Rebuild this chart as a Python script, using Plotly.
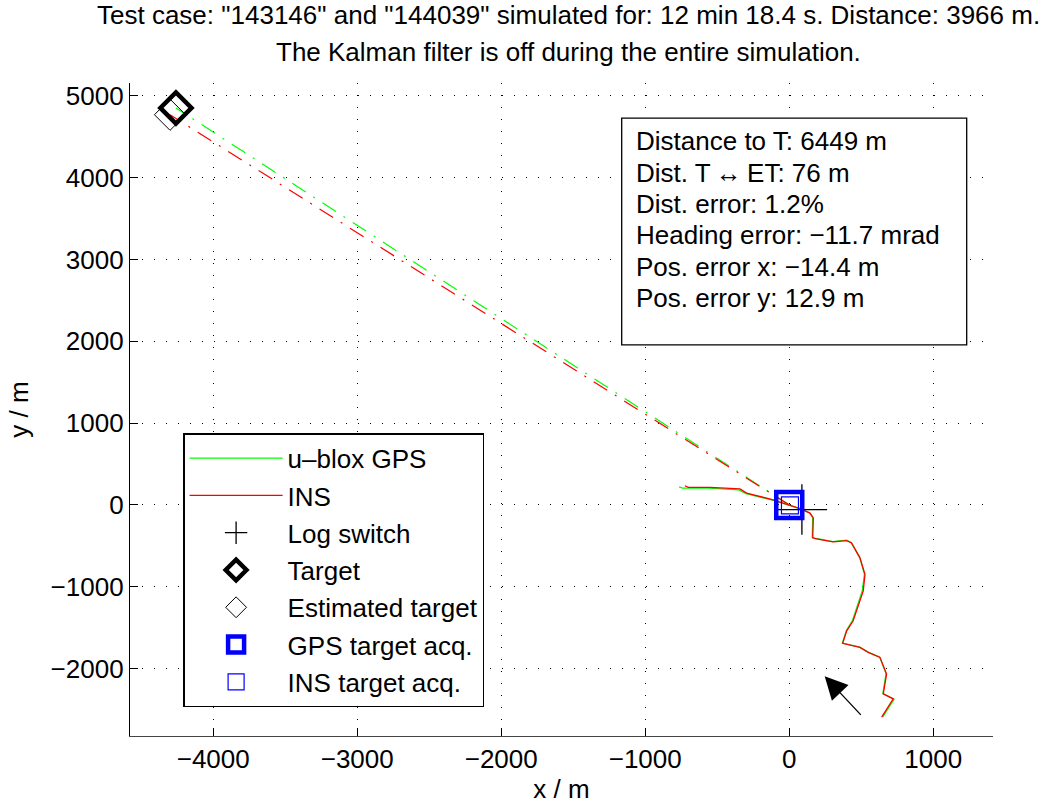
import plotly.graph_objects as go

# ---------------- data ----------------
gps_x = [650, 728, 650, 672, 628, 547, 489, 397, 369, 397, 440, 508, 522, 489, 430, 397, 300, 188, 160, 163, 140, 70, -115, -300, -350, -560, -740, -765]
gps_y = [-2590, -2375, -2305, -2060, -1858, -1798, -1738, -1698, -1688, -1535, -1410, -1045, -845, -640, -460, -430, -448, -410, -398, -155, -95, -42, 60, 138, 185, 205, 205, 222]

ins_x = [642, 722, 653, 676, 630, 549, 491, 399, 371, 399, 444, 514, 526, 491, 433, 399, 306, 190, 163, 167, 144, 74, -111, -296, -342, -551, -700, -725]
ins_y = [-2593, -2370, -2309, -2066, -1863, -1802, -1741, -1701, -1692, -1538, -1416, -1051, -849, -646, -464, -436, -451, -415, -402, -159, -99, -46, 63, 145, 197, 214, 215, 235]

log_switch = (88, -56)
target = (-4259, 4853)
est_target = (-4300, 4770)
gps_acq = (0, 0)
ins_acq = (5, -5)

gps_dir_x = [gps_acq[0], target[0]]
gps_dir_y = [gps_acq[1], target[1]]
ins_dir_x = [ins_acq[0], est_target[0]]
ins_dir_y = [ins_acq[1], est_target[1]]

arrow_tip = (246, -2094)
arrow_tail = (507, -2584)

x_ticks = [-4000, -3000, -2000, -1000, 0, 1000]
y_ticks = [-2000, -1000, 0, 1000, 2000, 3000, 4000, 5000]
x_range = [-4578, 1415]
y_range = [-2824, 5158]

title_lines = [
    'Test case: "143146" and "144039" simulated for: 12 min 18.4 s. Distance: 3966 m.',
    'The Kalman filter is off during the entire simulation.',
]
info_lines = [
    "Distance to T: 6449 m",
    "Dist. T\u2009\u2194\u2009ET: 76 m",
    "Dist. error: 1.2%",
    "Heading error: \u221211.7 mrad",
    "Pos. error x: \u221214.4 m",
    "Pos. error y: 12.9 m",
]

FONT = "Liberation Sans, Arial, Helvetica, sans-serif"
FS = 26

# plot area in pixels
L, R, T, B = 130, 993, 83, 739
W, H = 1054, 807
PW, PH = R - L, B - T

def px(xp):
    return (xp - L) / PW

def py(yp):
    return (B - yp) / PH

fig = go.Figure()

dashdot = "16px,9px,2px,9px"
fig.add_trace(go.Scatter(x=gps_dir_x, y=gps_dir_y, mode="lines",
                         line=dict(color="#00ff00", width=1.2, dash=dashdot),
                         showlegend=False, hoverinfo="skip"))
fig.add_trace(go.Scatter(x=ins_dir_x, y=ins_dir_y, mode="lines",
                         line=dict(color="#ff0000", width=1.2, dash=dashdot),
                         showlegend=False, hoverinfo="skip"))

fig.add_trace(go.Scatter(x=gps_x, y=gps_y, mode="lines", name="u\u2013blox GPS",
                         line=dict(color="#00ff00", width=1.3), legendgroup="a"))
fig.add_trace(go.Scatter(x=ins_x, y=ins_y, mode="lines", name="INS",
                         line=dict(color="#ff0000", width=1.3), legendgroup="b"))
fig.add_trace(go.Scatter(x=[log_switch[0]], y=[log_switch[1]], mode="markers", name="Log switch",
                         marker=dict(symbol="cross-thin-open", size=36, color="black",
                                     line=dict(color="black", width=1.3)), legendgroup="c"))
fig.add_trace(go.Scatter(x=[est_target[0]], y=[est_target[1]], mode="markers", name="Estimated target",
                         marker=dict(symbol="diamond-open", size=24, color="black",
                                     line=dict(color="black", width=1)), legendgroup="e",
                         legendrank=1005))
fig.add_trace(go.Scatter(x=[target[0]], y=[target[1]], mode="markers", name="Target",
                         marker=dict(symbol="diamond-open", size=24, color="black",
                                     line=dict(color="black", width=4.5)), legendgroup="d",
                         legendrank=1004))
fig.add_trace(go.Scatter(x=[gps_acq[0]], y=[gps_acq[1]], mode="markers", name="GPS target acq.",
                         marker=dict(symbol="square-open", size=26, color="#0000ff",
                                     line=dict(color="#0000ff", width=4.5)), legendgroup="f",
                         legendrank=1006))
fig.add_trace(go.Scatter(x=[ins_acq[0]], y=[ins_acq[1]], mode="markers", name="INS target acq.",
                         marker=dict(symbol="square-open", size=17, color="#0000ff",
                                     line=dict(color="#0000ff", width=1.2)), legendgroup="g",
                         legendrank=1007))

# arrow
fig.add_annotation(x=arrow_tip[0], y=arrow_tip[1], ax=arrow_tail[0], ay=arrow_tail[1],
                   xref="x", yref="y", axref="x", ayref="y", text="", showarrow=True,
                   arrowhead=2, arrowsize=3.5, arrowwidth=1.3, arrowcolor="black")

# title lines
for txt, yc in zip(title_lines, [15, 52]):
    fig.add_annotation(x=px(568), y=py(yc), xref="paper", yref="paper", text=txt,
                       showarrow=False, xanchor="center", yanchor="middle",
                       font=dict(family=FONT, size=FS, color="black"))

# info box
fig.add_shape(type="rect", xref="paper", yref="paper",
              x0=px(621.7), x1=px(966.7), y0=py(346), y1=py(118.3),
              line=dict(color="black", width=1.3), fillcolor="white", layer="above")
for i, txt in enumerate(info_lines):
    fig.add_annotation(x=px(634), y=py(141.7 + 31.5 * i), xref="paper", yref="paper",
                       text=txt, showarrow=False, xanchor="left", yanchor="middle",
                       font=dict(family=FONT, size=FS, color="black"))

axis_common = dict(
    showgrid=True, gridcolor="black", gridwidth=1, griddash="1px,11px",
    zeroline=False, showline=True, linewidth=1.3, ticks="inside", ticklen=8,
    tickwidth=1, tickcolor="black", mirror=False,
    tickfont=dict(family=FONT, size=FS, color="black"),
)

fig.update_xaxes(range=x_range, tickvals=x_ticks, linecolor="#444444",
                 title=dict(text="x / m", font=dict(family=FONT, size=FS, color="black"), standoff=2),
                 **axis_common)
fig.update_yaxes(range=y_range, tickvals=y_ticks, linecolor="black",
                 title=dict(text="y / m", font=dict(family=FONT, size=FS, color="black"), standoff=14),
                 **axis_common)

fig.update_layout(
    width=W, height=H,
    margin=dict(l=L, r=W - R, t=T, b=H - B, pad=0),
    paper_bgcolor="white", plot_bgcolor="white",
    font=dict(family=FONT, size=FS, color="black"),
    showlegend=True,
    legend=dict(x=px(183.3), y=py(435), xanchor="left", yanchor="top",
                bgcolor="white", bordercolor="black", borderwidth=1.3,
                font=dict(family=FONT, size=FS, color="black"),
                itemsizing="trace", itemwidth=93, tracegroupgap=0.5,
                traceorder="grouped"),
)

fig.write_html("out.html", config={"displayModeBar": False},
               post_script="document.body.style.margin='0';document.body.style.overflow='hidden';")
